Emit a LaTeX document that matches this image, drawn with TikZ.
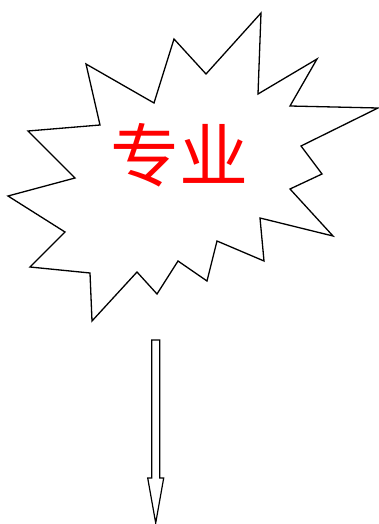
\documentclass[tikz,border=0pt]{standalone}
\usepackage{fontspec}
\usepackage{tikz}
\usetikzlibrary{positioning,calc}
\newfontfamily\cjk{Noto Sans CJK SC}
\definecolor{burst}{RGB}{0,0,0}
\definecolor{label}{RGB}{255,0,0}
\tikzset{
  burstline/.style={draw=burst,line width=1.3pt,line join=miter},
  blockarrow/.style={draw=burst,line width=1.2pt,fill=white}
}

\begin{document}
\begin{tikzpicture}[x=1pt,y=-1pt]
  \useasboundingbox (0,0) rectangle (379,524);
  % starburst outline
  \draw[burstline] (28,131) -- (100,125) -- (86,64) -- (154,103) -- (174,39)
    -- (206,74) -- (261,13) -- (258,94) -- (317,59) -- (290,106) -- (378,108)
    -- (301,146) -- (322,174) -- (290,189) -- (333,236) -- (260,218)
    -- (264,261) -- (217,241) -- (207,281) -- (178,261) -- (157,294)
    -- (137,272) -- (92,321) -- (90,273) -- (30,267) -- (65,232) -- (8,196)
    -- (75,178) -- cycle;
  \node[text=label,font=\cjk\fontsize{69}{69}\selectfont,inner sep=0pt] (zhuanye) at (179,155) {专业};
  % hollow arrow below
  \coordinate (arrowtop) at (155.7,340);
  \coordinate (arrowtip) at (155.7,523);
  \draw[blockarrow] ($(arrowtop)+(-4,0)$) -- ($(arrowtop)+(4,0)$)
    -- ($(arrowtip)+(4,-45)$) -- ($(arrowtip)+(8,-45)$) -- (arrowtip)
    -- ($(arrowtip)+(-8,-45)$) -- ($(arrowtip)+(-4,-45)$) -- cycle;
\end{tikzpicture}
\end{document}
